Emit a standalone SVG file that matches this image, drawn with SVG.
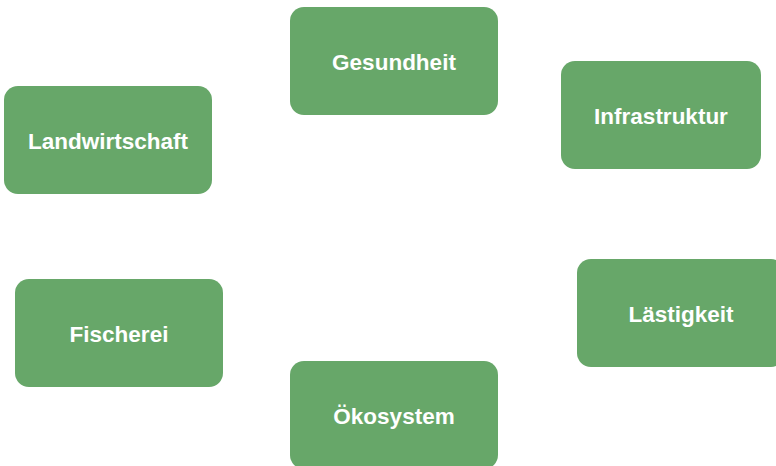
<svg xmlns="http://www.w3.org/2000/svg" width="776" height="466" viewBox="0 0 776 466">
<style>
.box{fill:#67a769;}
.lbl{font-family:"Liberation Sans",Arial,sans-serif;font-weight:bold;font-size:22.5px;fill:#ffffff;text-anchor:middle;}
</style>
<rect width="776" height="466" fill="#ffffff"/>
<g id="connectors"></g>
<g id="gesundheit"><rect class="box" x="290" y="7" width="208" height="108" rx="14"/><text class="lbl" x="394" y="70">Gesundheit</text></g>
<g id="landwirtschaft"><rect class="box" x="4" y="86" width="208" height="108" rx="14"/><text class="lbl" x="108" y="149">Landwirtschaft</text></g>
<g id="infrastruktur"><rect class="box" x="561" y="61" width="200" height="108" rx="14"/><text class="lbl" x="661" y="124">Infrastruktur</text></g>
<g id="laestigkeit"><rect class="box" x="577" y="259" width="208" height="108" rx="14"/><text class="lbl" x="681" y="322">Lästigkeit</text></g>
<g id="fischerei"><rect class="box" x="15" y="279" width="208" height="108" rx="14"/><text class="lbl" x="119" y="342">Fischerei</text></g>
<g id="oekosystem"><rect class="box" x="290" y="361" width="208" height="108" rx="14"/><text class="lbl" x="394" y="424">Ökosystem</text></g>
</svg>
